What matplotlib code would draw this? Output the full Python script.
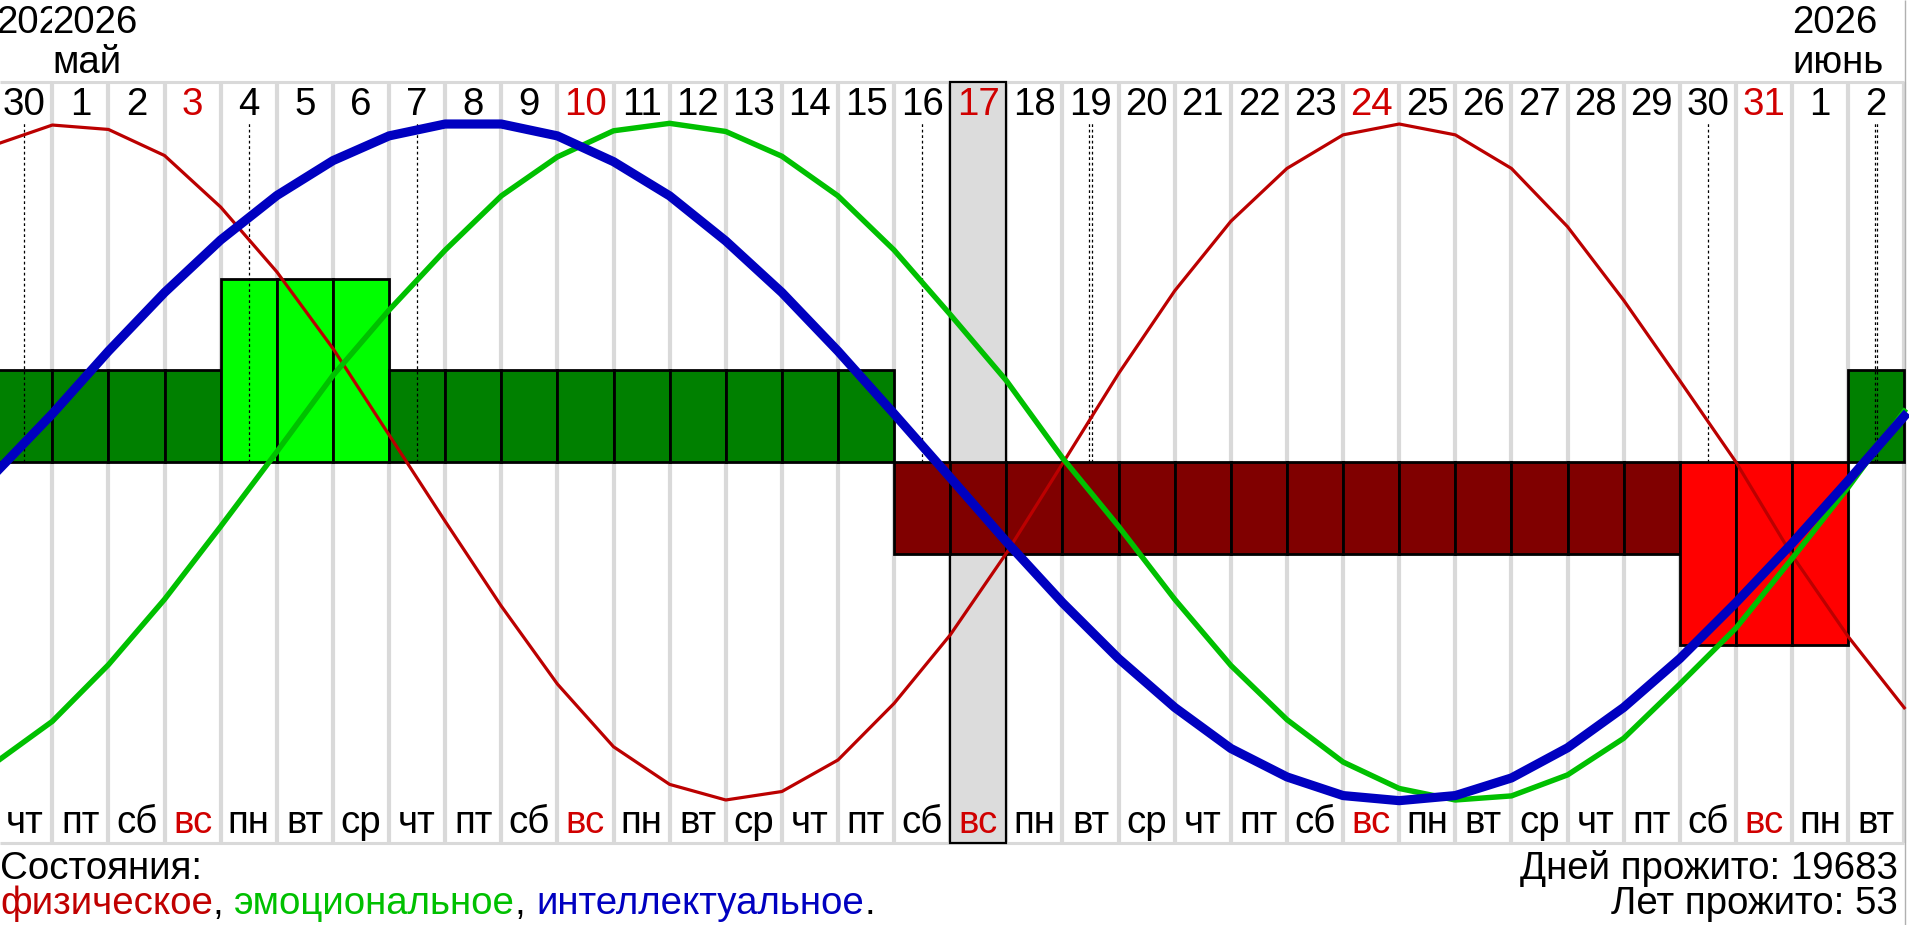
import matplotlib
matplotlib.use("Agg")
import matplotlib.pyplot as plt
from matplotlib.patches import Rectangle

plt.rcParams['font.family'] = ['Liberation Sans', 'DejaVu Sans']

# ---------------- data ----------------
day_numbers = ['30', '1', '2', '3', '4', '5', '6', '7', '8', '9', '10', '11', '12', '13',
               '14', '15', '16', '17', '18', '19', '20', '21', '22', '23', '24', '25', '26',
               '27', '28', '29', '30', '31', '1', '2']
weekdays = ['чт', 'пт', 'сб', 'вс', 'пн', 'вт', 'ср',
            'чт', 'пт', 'сб', 'вс', 'пн', 'вт', 'ср',
            'чт', 'пт', 'сб', 'вс', 'пн', 'вт', 'ср',
            'чт', 'пт', 'сб', 'вс', 'пн', 'вт', 'ср',
            'чт', 'пт', 'сб', 'вс', 'пн', 'вт']
today_index = 17

# curve values at day boundaries 0..34
physical = [0.937, 0.994, 0.981, 0.904, 0.752, 0.561, 0.335, 0.080, -0.175, -0.425,
            -0.655, -0.840, -0.951, -0.997, -0.972, -0.879, -0.712, -0.510, -0.269, -0.005,
            0.261, 0.505, 0.710, 0.866, 0.965, 0.997, 0.965, 0.866, 0.694, 0.477,
            0.240, 0.000, -0.275, -0.515, -0.725]
emotional = [-0.885, -0.765, -0.598, -0.405, -0.190, 0.030, 0.255, 0.448, 0.625, 0.785,
             0.900, 0.977, 0.999, 0.975, 0.902, 0.785, 0.625, 0.435, 0.240, 0.012,
             -0.190, -0.405, -0.600, -0.760, -0.885, -0.963, -0.997, -0.985, -0.923, -0.815,
             -0.655, -0.490, -0.285, -0.075, 0.150]
intellectual = [-0.030, 0.142, 0.327, 0.500, 0.655, 0.786, 0.889, 0.962, 0.997, 0.997,
                0.962, 0.886, 0.785, 0.652, 0.500, 0.327, 0.142, -0.046, -0.235, -0.415,
                -0.580, -0.724, -0.845, -0.929, -0.984, -0.999, -0.984, -0.932, -0.843, -0.724,
                -0.580, -0.415, -0.240, -0.055, 0.135]

# overall state per day (+2 .. -2)
states = [1, 1, 1, 1, 2, 2, 2, 1, 1, 1, 1, 1, 1, 1, 1, 1,
          -1, -1, -1, -1, -1, -1, -1, -1, -1, -1, -1, -1, -1, -1,
          -2, -2, -2, 1]
state_level = 0.27

# critical days (dashed markers) and number of curves crossing zero there
critical_days = [0, 4, 7, 16, 19, 30, 33]
critical_counts = [1, 1, 1, 1, 2, 1, 2]

month_labels = [(0, '2026', ''), (1, '2026', 'май'), (32, '2026', 'июнь')]
days_lived = 19683
years_lived = 53

# ---------------- layout helpers ----------------
W, H = 1909, 925
COLW = 56.12
X0 = -3.8            # pixel of boundary 0
ZERO = 462.0         # pixel of value 0
AMP = 339.0          # pixels per unit value


def px2x(p):
    return (p - X0) / COLW


def py2y(p):
    return (ZERO - p) / AMP


fig = plt.figure(figsize=(W / 100, H / 100), dpi=100)
ax = fig.add_axes([0, 0, 1, 1])
ax.set_xlim(px2x(0), px2x(W))
ax.set_ylim(py2y(H), py2y(0))
ax.axis('off')

n = len(day_numbers)
top_line = py2y(82)
bot_line = py2y(843)
SEP = '#d9d9d9'

# separators and frame lines
ax.vlines(range(n + 1), bot_line, top_line, colors=SEP, linewidth=3.0, zorder=1)
ax.hlines([top_line, bot_line], px2x(0), n, colors=SEP, linewidth=2.2, zorder=1)
ax.vlines([px2x(1905)], py2y(H), py2y(0), colors='#b0b0b0', linewidth=1.0, zorder=1)

# today box
ax.add_patch(Rectangle((today_index, bot_line), 1, top_line - bot_line,
                       facecolor='#dcdcdc', edgecolor='black', linewidth=1.6, zorder=2))

# state bars
state_colors = {1: '#008000', 2: '#00ff00', -1: '#800000', -2: '#ff0000'}
ax.bar([i for i in range(n)], [s * state_level for s in states], width=1.0, align='edge',
       color=[state_colors[s] for s in states], edgecolor='black', linewidth=2.0, zorder=3)

# critical day dashed lines
dx = 1.2 / COLW
for d, c in zip(critical_days, critical_counts):
    xs = [d + 0.5] if c == 1 else [d + 0.5 - dx, d + 0.5 + dx]
    for xx in xs:
        ax.plot([xx, xx], [0, 1.0], color='black', linewidth=0.9,
                linestyle=(0, (2.2, 2.2)), zorder=4)

# curves
xb = list(range(n + 1))
ax.plot(xb, physical, color='#bb0000', linewidth=2.3, zorder=5)
ax.plot(xb, emotional, color='#00c000', linewidth=3.9, zorder=6)
ax.plot(xb, intellectual, color='#0000c0', linewidth=6.6, zorder=7)

FS = 27.7
RED = '#d00000'
# day numbers and weekdays
for i in range(n):
    col = RED if (weekdays[i] == 'вс' or i == today_index) else 'black'
    ax.text(i + 0.5, py2y(115), day_numbers[i], ha='center', va='baseline',
            fontsize=FS, color=col, zorder=8)
    ax.text(i + 0.5, py2y(833), weekdays[i], ha='center', va='baseline',
            fontsize=FS, color=RED if weekdays[i] == 'вс' else 'black', zorder=8)

# month / year labels (each later label has a white background hiding the previous one)
for j, (b, yr, mon) in enumerate(month_labels):
    kw = {}
    if j > 0:
        kw['bbox'] = dict(facecolor='white', edgecolor='none', pad=0)
    ax.text(b, py2y(33), yr, ha='left', va='baseline', fontsize=FS, color='black',
            zorder=8 + j, **kw)
    if mon:
        ax.text(b, py2y(73), mon, ha='left', va='baseline', fontsize=FS, color='black',
                zorder=8 + j, **kw)

# bottom captions
ax.text(px2x(0), py2y(879), 'Состояния:', ha='left', va='baseline', fontsize=FS)
pieces = [('физическое', '#c00000'), (', ', 'black'), ('эмоциональное', '#00c000'),
          (', ', 'black'), ('интеллектуальное', '#0000c0'), ('.', 'black')]
prev = ax.text(px2x(0), py2y(914), pieces[0][0], ha='left', va='baseline',
               fontsize=FS, color=pieces[0][1])
for s, c in pieces[1:]:
    prev = ax.annotate(s, xy=(1, 0), xycoords=prev, ha='left', va='bottom',
                       fontsize=FS, color=c)

ax.text(px2x(1898), py2y(879), f'Дней прожито: {days_lived}', ha='right', va='baseline',
        fontsize=FS)
ax.text(px2x(1898), py2y(914), f'Лет прожито: {years_lived}', ha='right', va='baseline',
        fontsize=FS)

fig.savefig('out.png', dpi=100)
